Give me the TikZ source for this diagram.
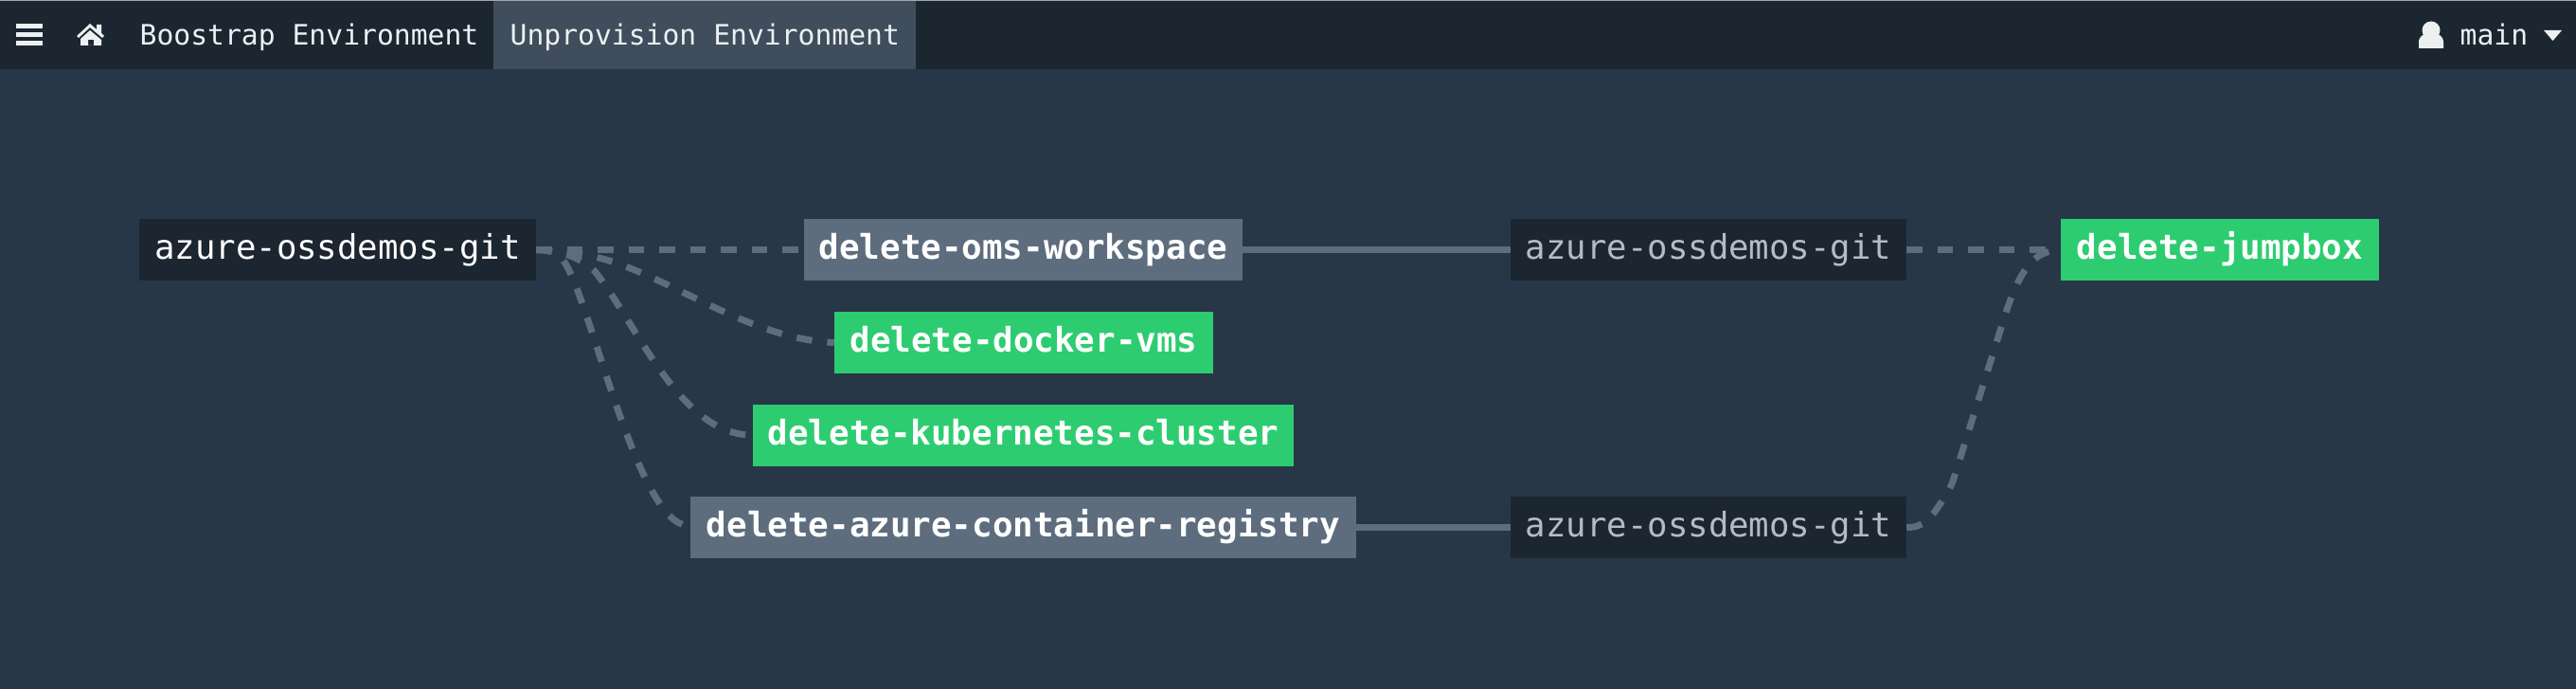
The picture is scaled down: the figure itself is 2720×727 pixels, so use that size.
\documentclass[tikz,border=0pt]{standalone}
\usepackage{fontspec}
\setmainfont{DejaVu Sans Mono}
\definecolor{pagebg}{HTML}{283747}
\definecolor{navbg}{HTML}{1B2631}
\definecolor{tabbg}{HTML}{3F4D5C}
\definecolor{edgecol}{HTML}{5D6D7E}
\definecolor{okgreen}{HTML}{2ECC71}
\definecolor{snow}{HTML}{ECF0F1}
\definecolor{dimtext}{HTML}{B3BCC4}
\tikzset{
  boxbase/.style={inner sep=0pt,anchor=center,minimum height=65pt,font=\fontsize{35.7}{40}\selectfont,text height=27pt,text depth=7pt},
  gitbox/.style={boxbase,fill=navbg,text=white},
  gitdim/.style={boxbase,fill=navbg,text=dimtext},
  failbox/.style={boxbase,fill=edgecol,text=white,font=\fontsize{35.85}{40}\selectfont\bfseries},
  okbox/.style={boxbase,fill=okgreen,text=white,font=\fontsize{35.85}{40}\selectfont\bfseries},
  dashedge/.style={draw=edgecol,line width=7pt,dash pattern=on 16.5pt off 16pt},
  solidedge/.style={draw=edgecol,line width=7pt},
  navtext/.style={inner sep=0pt,anchor=base west,text=snow,font=\fontsize{29.7}{34}\selectfont},
  icon/.style={fill=snow,draw=none}
}
\begin{document}
\begin{tikzpicture}[x=1pt,y=-1pt]
\useasboundingbox (0,0) rectangle (2720,727);
\fill[pagebg] (0,0) rectangle (2720,727);
\fill[navbg] (0,1) rectangle (2720,73);
\fill[black!35!white] (0,0) rectangle (2720,1);
\fill[tabbg] (521,1) rectangle (967,73);
% hamburger
\fill[icon] (17,25) rectangle (45,30);
\fill[icon] (17,34) rectangle (45,39);
\fill[icon] (17,43) rectangle (45,48);
% home
\fill[icon] (95,25) -- (102,31) -- (102,26) -- (107,26) -- (107,35) -- (110,38) -- (108,40) -- (95,29) -- (83,40) -- (81,38) -- cycle;
\fill[icon,even odd rule] (95,32) -- (107,42) -- (107,48) -- (85,48) -- (85,41) -- cycle (93,42) rectangle (99,48);
% user
\fill[icon] (2567,32) circle (9.5);
\fill[icon] (2554,51) -- (2554,45) .. controls (2554,38) and (2559,36) .. (2562,36) -- (2572,36) .. controls (2575,36) and (2580,38) .. (2580,45) -- (2580,51) -- cycle;
% caret
\fill[icon] (2686,32) -- (2705,32) -- (2695.5,43) -- cycle;
\node[navtext] (nb) at (147.5,48) {Boostrap Environment};
\node[navtext] (nu) at (538.5,48) {Unprovision Environment};
\node[navtext] (nm) at (2597.5,48) {main};

\node[gitbox,minimum width=419pt] (git1) at (356.5,263.5) {azure-ossdemos-git};
\node[failbox,minimum width=463pt] (oms) at (1080.5,263.5) {delete-oms-workspace};
\node[okbox,minimum width=400pt] (docker) at (1081,361.5) {delete-docker-vms};
\node[okbox,minimum width=571pt] (kube) at (1080.5,459) {delete-kubernetes-cluster};
\node[failbox,minimum width=703pt] (acr) at (1080.5,556.5) {delete-azure-container-registry};
\node[gitdim,minimum width=418pt] (git2) at (1804,263.5) {azure-ossdemos-git};
\node[gitdim,minimum width=418pt] (git3) at (1804,556.5) {azure-ossdemos-git};
\node[okbox,minimum width=336pt] (jump) at (2344,263.5) {delete-jumpbox};

\draw[solidedge] (oms.east) -- (git2.west);
\draw[solidedge] (acr.east) -- (git3.west);
\draw[dashedge,shorten >=5pt] (git1.east) -- (oms.west);
\draw[dashedge] (git1.east) .. controls (595,264) and (610,267) .. (632,272) .. controls (705,290) and (790,358) .. (docker.west);
\draw[dashedge] (git1.east) .. controls (590,264) and (610,270) .. (627,285) .. controls (672,340) and (718,460) .. (kube.west);
\draw[dashedge,shorten >=9pt] (git1.east) .. controls (585,264) and (590,268) .. (597,278) .. controls (625,325) and (670,535) .. (acr.west);
\draw[dashedge,shorten >=11pt] (git2.east) -- (jump.west);
\draw[dashedge,shorten >=11pt] (git3.east) .. controls (2025,557) and (2035,552) .. (2045,537) .. controls (2052,527) and (2057,520) .. (2062,508) -- (2111,352) .. controls (2121,320) and (2135,270) .. (jump.west);
\end{tikzpicture}
\end{document}
